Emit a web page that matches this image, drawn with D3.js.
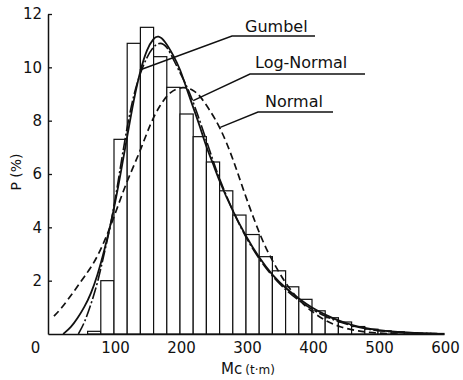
<!DOCTYPE html>
<html>
<head>
<meta charset="utf-8">
<script src="https://cdn.jsdelivr.net/npm/d3@7"></script>
<style>
  body { margin: 0; background: #fff; }
  text { font-family: "DejaVu Sans", sans-serif; fill: #111; }
</style>
</head>
<body>
<div id="chart"></div>
<script>
// histogram bins (lower edge, width 20) and the P(%) value read for each bin
var binStarts = [60, 80, 100, 120, 140, 160, 180, 200, 220, 240, 260, 280, 300, 320,
  340, 360, 380, 400, 420, 440, 460, 480, 500, 520, 540, 560, 580];
var binValues = [0.1, 2.0, 7.3, 10.9, 11.5, 10.4, 9.25, 8.25, 7.4, 6.45, 5.37, 4.46, 3.73, 2.9,
  2.37, 1.77, 1.3, 0.87, 0.61, 0.45, 0.28, 0.18, 0.12, 0.08, 0.05, 0.03, 0.02];
var binWidth = 20;

// fitted curves as [Mc, P]
var gumbel = [[23, 0], [35, 0.25], [45, 0.6], [55, 1.0], [65, 1.5], [75, 2.2], [85, 3.1],
  [97, 4.3], [110, 6.0], [120, 7.4], [130, 8.8], [140, 9.9], [150, 10.7], [160, 11.1],
  [167, 11.2], [177, 11.0], [190, 10.45], [200, 9.95], [210, 9.2], [220, 8.5], [230, 7.8],
  [240, 7.0], [250, 6.4], [260, 5.7], [280, 4.6], [300, 3.65], [320, 2.85], [340, 2.2],
  [360, 1.72], [380, 1.32], [400, 0.98], [420, 0.72], [440, 0.5], [460, 0.34], [480, 0.22],
  [500, 0.14], [530, 0.07], [560, 0.03], [590, 0.01]];
var logNormal = [[46, 0], [55, 0.4], [65, 1.1], [75, 1.9], [85, 3.0], [97, 4.3], [110, 6.3],
  [120, 7.8], [130, 9.0], [140, 9.8], [150, 10.4], [160, 10.8], [170, 10.95], [180, 10.8],
  [190, 10.3], [200, 9.8], [210, 9.3], [217, 8.9], [230, 8.0], [240, 7.25], [250, 6.5],
  [260, 5.8], [280, 4.6], [300, 3.6], [320, 2.8], [340, 2.15], [360, 1.65], [380, 1.25],
  [400, 0.92], [420, 0.66], [440, 0.46], [460, 0.31], [480, 0.2], [500, 0.12], [530, 0.06],
  [560, 0.03], [590, 0.01]];
var normal = [[9, 0.67], [20, 0.95], [38, 1.55], [55, 2.15], [74, 2.8], [97, 4.15], [117, 5.6],
  [139, 6.8], [155, 7.9], [170, 8.6], [185, 9.1], [205, 9.3], [220, 9.15], [230, 8.95],
  [245, 8.4], [261, 7.75], [280, 6.6], [296, 5.4], [315, 4.1], [331, 3.15], [350, 2.3],
  [367, 1.65], [385, 1.15], [402, 0.8], [420, 0.5], [442, 0.26], [470, 0.1], [500, 0.03],
  [530, 0.0]];

var xTicks = [0, 100, 200, 300, 400, 500, 600];
var yTicks = [2, 4, 6, 8, 10, 12];

var width = 463;
var height = 380;

var svg = d3.select("#chart")
  .append("svg")
  .attr("width", width)
  .attr("height", height);

var x = d3.scaleLinear().domain([0, 600]).range([48, 444]);
var y = d3.scaleLinear().domain([0, 12]).range([334, 14]);

// bars first so the curves sit on top
svg.append("g")
  .selectAll("rect")
  .data(binStarts)
  .enter()
  .append("rect")
  .attr("x", function(d) { return x(d); })
  .attr("y", function(d, i) { return y(binValues[i]); })
  .attr("width", function(d) { return x(d + binWidth) - x(d); })
  .attr("height", function(d, i) { return y(0) - y(binValues[i]); })
  .attr("fill", "#fff")
  .attr("stroke", "#111")
  .attr("stroke-width", 1.2);

var line = d3.line()
  .x(function(d) { return x(d[0]); })
  .y(function(d) { return y(d[1]); })
  .curve(d3.curveBasis);

svg.append("path")
  .attr("d", line(normal))
  .attr("fill", "none")
  .attr("stroke", "#111")
  .attr("stroke-width", 1.7)
  .attr("stroke-dasharray", "7,4");

svg.append("path")
  .attr("d", line(logNormal))
  .attr("fill", "none")
  .attr("stroke", "#111")
  .attr("stroke-width", 1.6)
  .attr("stroke-dasharray", "12,2.5,2,2.5");

svg.append("path")
  .attr("d", line(gumbel))
  .attr("fill", "none")
  .attr("stroke", "#111")
  .attr("stroke-width", 1.8);

// axes
var yAxis = svg.append("g")
  .attr("transform", "translate(" + x(0) + ",0)")
  .call(d3.axisLeft(y).tickValues(yTicks).tickSize(-4).tickPadding(6).tickSizeOuter(0));
yAxis.select(".domain").attr("stroke", "#111").attr("stroke-width", 1.5);
yAxis.selectAll(".tick line").attr("stroke", "#111").attr("stroke-width", 1.3);
yAxis.selectAll("text").style("font-size", "15px").style("font-family", "DejaVu Sans");

var xAxis = svg.append("g")
  .attr("transform", "translate(0," + y(0) + ")")
  .call(d3.axisBottom(x).tickValues(xTicks).tickSize(0).tickPadding(8).tickSizeOuter(0));
xAxis.select(".domain").attr("stroke", "#111").attr("stroke-width", 1.5);
xAxis.selectAll("text").style("font-size", "15px").style("font-family", "DejaVu Sans")
  .attr("dx", function(d) { return d === 0 ? -13 : 1; });

// axis titles
var xTitle = svg.append("text")
  .attr("x", 248)
  .attr("y", 374)
  .attr("text-anchor", "middle");
xTitle.append("tspan").style("font-size", "15px").text("Mc");
xTitle.append("tspan").style("font-size", "12px").attr("dx", 3).text("(t·m)");

svg.append("text")
  .attr("transform", "translate(21,172)rotate(-90)")
  .attr("text-anchor", "middle")
  .style("font-size", "14px")
  .text("P (%)");

// curve labels with leader lines pointing to the curves
var labels = [
  { name: "Gumbel", tx: 245, ty: 32, ux0: 232, ux1: 315, uy: 36, at: [139, 9.9] },
  { name: "Log-Normal", tx: 255, ty: 68, ux0: 250, ux1: 365, uy: 74, at: [220, 8.75] },
  { name: "Normal", tx: 265, ty: 107, ux0: 258, ux1: 333, uy: 112, at: [261, 7.75] }
];

labels.forEach(function(l) {
  svg.append("text")
    .attr("x", l.tx)
    .attr("y", l.ty)
    .style("font-size", "16px")
    .text(l.name);
  svg.append("path")
    .attr("d", "M" + l.ux1 + "," + l.uy + "L" + l.ux0 + "," + l.uy +
      "L" + x(l.at[0]) + "," + y(l.at[1]))
    .attr("fill", "none")
    .attr("stroke", "#111")
    .attr("stroke-width", 1.4);
});
</script>
</body>
</html>
